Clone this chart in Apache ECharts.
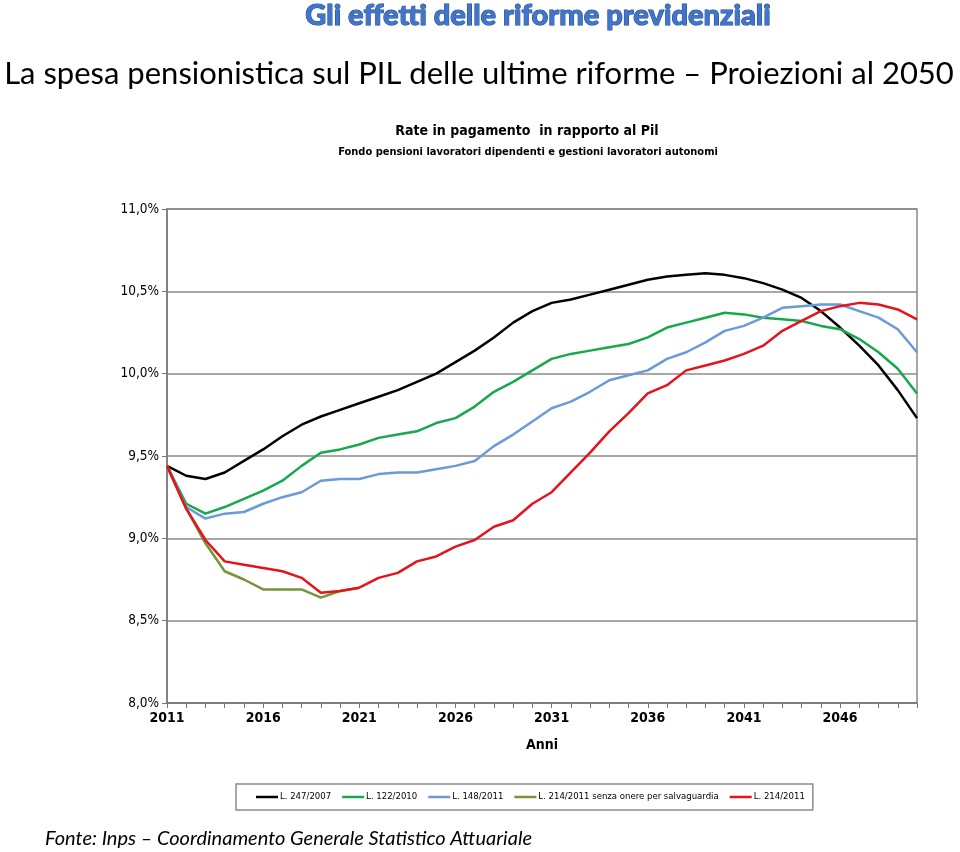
<!DOCTYPE html>
<html>
<head>
<meta charset="utf-8">
<script src="https://cdn.jsdelivr.net/npm/echarts@6/dist/echarts.min.js"></script>
<style>
html,body{margin:0;padding:0;background:#fff;}
#chart{width:960px;height:852px;}
</style>
</head>
<body>
<div id="chart"></div>
<script>
const years = ['2011','2012','2013','2014','2015','2016','2017','2018','2019','2020',
  '2021','2022','2023','2024','2025','2026','2027','2028','2029','2030',
  '2031','2032','2033','2034','2035','2036','2037','2038','2039','2040',
  '2041','2042','2043','2044','2045','2046','2047','2048','2049','2050'];

const l247_2007 = [9.44,9.38,9.36,9.40,9.47,9.54,9.62,9.69,9.74,9.78,
  9.82,9.86,9.90,9.95,10.00,10.07,10.14,10.22,10.31,10.38,
  10.43,10.45,10.48,10.51,10.54,10.57,10.59,10.60,10.61,10.60,
  10.58,10.55,10.51,10.46,10.38,10.28,10.17,10.05,9.90,9.73];

const l122_2010 = [9.44,9.21,9.15,9.19,9.24,9.29,9.35,9.44,9.52,9.54,
  9.57,9.61,9.63,9.65,9.70,9.73,9.80,9.89,9.95,10.02,
  10.09,10.12,10.14,10.16,10.18,10.22,10.28,10.31,10.34,10.37,
  10.36,10.34,10.33,10.32,10.29,10.27,10.21,10.13,10.03,9.88];

const l148_2011 = [9.44,9.19,9.12,9.15,9.16,9.21,9.25,9.28,9.35,9.36,
  9.36,9.39,9.40,9.40,9.42,9.44,9.47,9.56,9.63,9.71,
  9.79,9.83,9.89,9.96,9.99,10.02,10.09,10.13,10.19,10.26,
  10.29,10.34,10.40,10.41,10.42,10.42,10.38,10.34,10.27,10.13];

const l214_2011_senza = [9.44,9.18,8.97,8.80,8.75,8.69,8.69,8.69,8.64,8.68,
  8.70,null,null,null,null,null,null,null,null,null,
  null,null,null,null,null,null,null,null,null,null,
  null,null,null,null,null,null,null,null,null,null];

const l214_2011 = [9.44,9.18,8.99,8.86,8.84,8.82,8.80,8.76,8.67,8.68,
  8.70,8.76,8.79,8.86,8.89,8.95,8.99,9.07,9.11,9.21,
  9.28,9.40,9.52,9.65,9.76,9.88,9.93,10.02,10.05,10.08,
  10.12,10.17,10.26,10.32,10.38,10.41,10.43,10.42,10.39,10.33];

const seriesNames = ['L. 247/2007','L. 122/2010','L. 148/2011','L. 214/2011 senza onere per salvaguardia','L. 214/2011'];
const seriesData = [l247_2007, l122_2010, l148_2011, l214_2011_senza, l214_2011];
const seriesColors = ['#000000','#18a84c','#6a9ad8','#78943a','#e3141b'];

const narrow = "'DejaVu Sans Condensed','Liberation Sans',sans-serif";

const chart = echarts.init(document.getElementById('chart'), null, {renderer:'canvas'});
chart.setOption({
  backgroundColor:'#ffffff',
  animation:false,
  title:[
    {text:'Gli effetti delle riforme previdenziali', left:538, top:1, textAlign:'center', padding:0,
      textStyle:{fontFamily:'Lato', fontWeight:900, fontSize:29, color:'#3f76cc',
        textBorderColor:'#1c3f86', textBorderWidth:1}},
    {text:'La spesa pensionistica sul PIL delle ultime riforme – Proiezioni al 2050', left:479, top:58, textAlign:'center', padding:0,
      textStyle:{fontFamily:'Lato', fontWeight:'normal', fontSize:31, color:'#000'}},
    {text:'Rate in pagamento  in rapporto al Pil', left:527, top:124, textAlign:'center', padding:0,
      textStyle:{fontFamily:narrow, fontWeight:'bold', fontSize:14, color:'#000'}},
    {text:'Fondo pensioni lavoratori dipendenti e gestioni lavoratori autonomi', left:528, top:147, textAlign:'center', padding:0,
      textStyle:{fontFamily:narrow, fontWeight:'bold', fontSize:11, color:'#000'}},
    {text:'Fonte: Inps – Coordinamento Generale Statistico Attuariale', left:45, top:829, padding:0,
      textStyle:{fontFamily:'Lato', fontStyle:'italic', fontWeight:'normal', fontSize:20, color:'#000'}}
  ],
  legend:{
    data:seriesNames,
    left:236, top:784,
    padding:[8,8,8,20],
    itemGap:11, itemWidth:22, itemHeight:2.5, icon:'rect',
    borderColor:'#8c8c8c', borderWidth:1.5,
    textStyle:{fontFamily:narrow, fontSize:9.5, color:'#000', padding:[0,0,0,-3]}
  },
  grid:{left:167, right:43, top:209, bottom:149, show:true, borderColor:'#8a8a8a', borderWidth:1.5},
  xAxis:{
    type:'category', data:years, boundaryGap:false,
    name:'Anni', nameLocation:'middle', nameGap:35,
    nameTextStyle:{fontFamily:narrow, fontWeight:'bold', fontSize:14, color:'#000'},
    axisLine:{lineStyle:{color:'#777', width:1.5}},
    axisTick:{show:true, interval:0, length:5, lineStyle:{color:'#777'}},
    axisLabel:{interval:4, fontFamily:narrow, fontWeight:'bold', fontSize:14, color:'#000', margin:8},
    splitLine:{show:false}
  },
  yAxis:{
    type:'value', min:8, max:11, interval:0.5,
    axisLine:{show:true, lineStyle:{color:'#777', width:1.5}},
    axisTick:{show:true, length:5, lineStyle:{color:'#777'}},
    axisLabel:{fontFamily:narrow, fontSize:13.5, color:'#000', margin:8,
      formatter:v=>v.toFixed(1).replace('.',',')+'%'},
    splitLine:{lineStyle:{color:'#8a8a8a', width:1.5}}
  },
  series: seriesNames.map((n,i)=>({
    name:n, type:'line', data:seriesData[i], symbol:'none', smooth:false,
    connectNulls:false,
    lineStyle:{color:seriesColors[i], width:2.5},
    itemStyle:{color:seriesColors[i]}
  }))
});
</script>
</body>
</html>
